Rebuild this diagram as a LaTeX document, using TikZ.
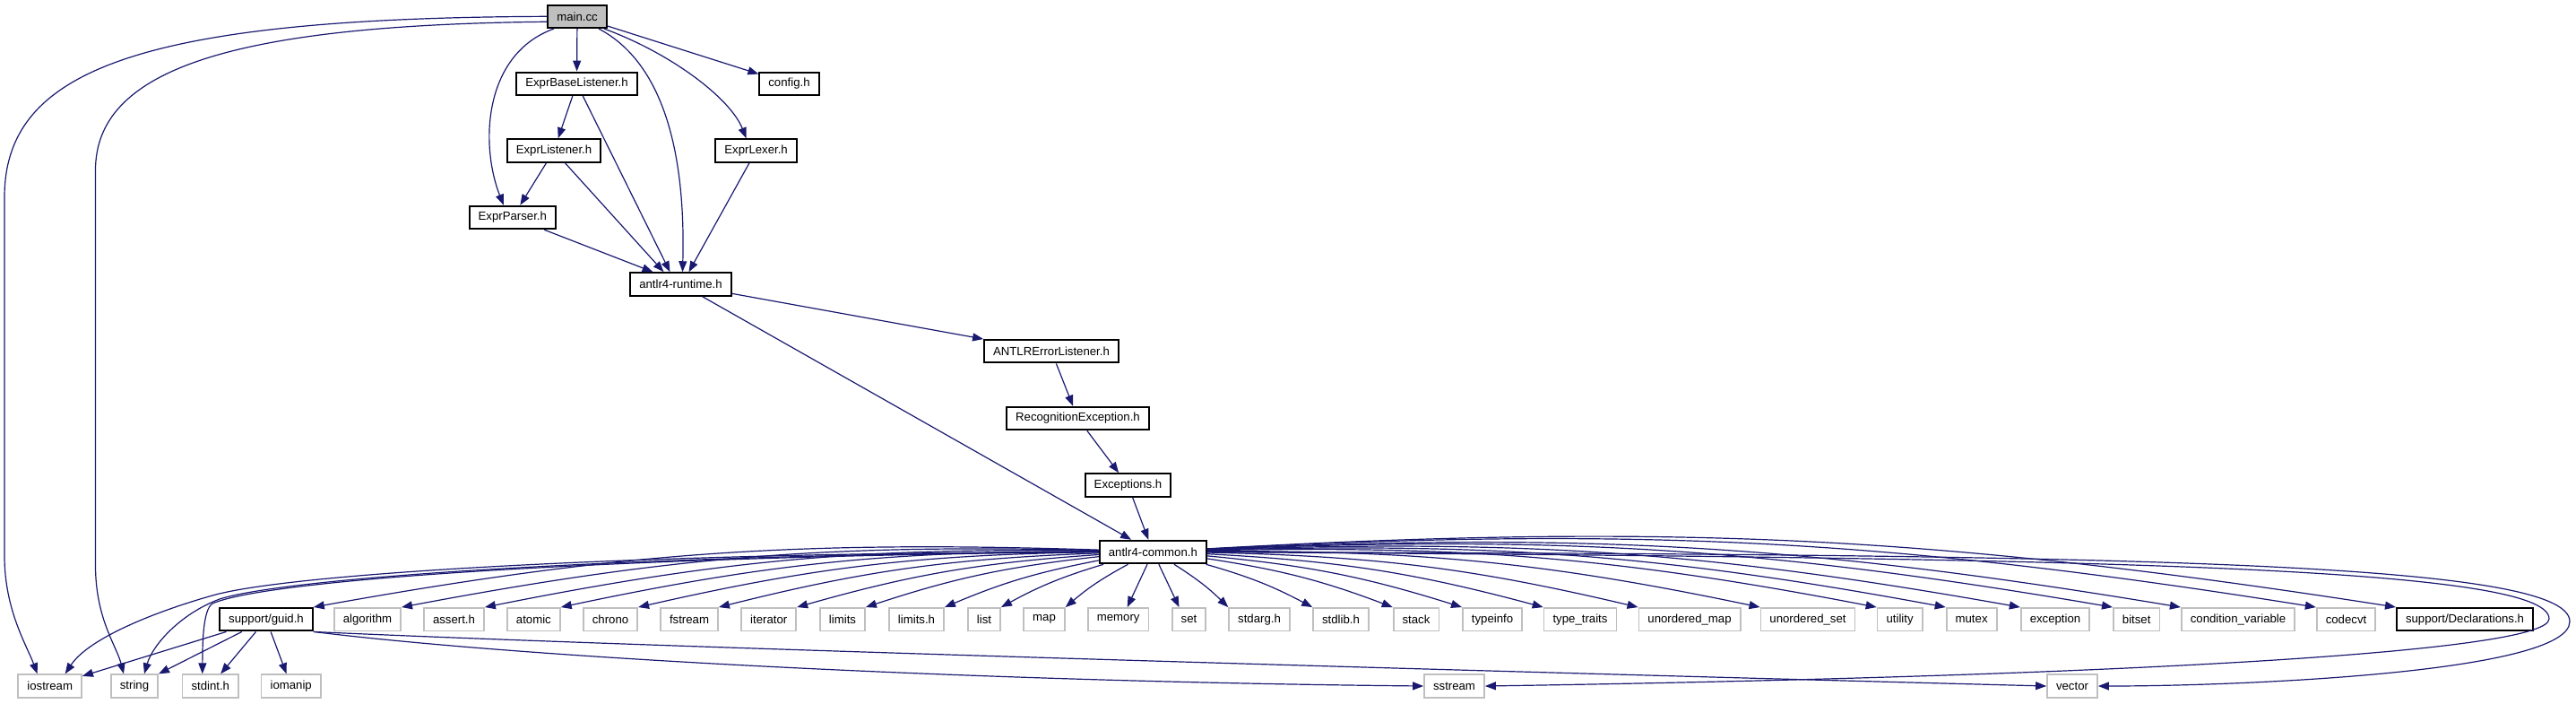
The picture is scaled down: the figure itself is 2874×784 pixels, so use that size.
\documentclass[tikz,border=0pt]{standalone}
\usepackage{fontspec}
\setmainfont{Liberation Sans}
\definecolor{mEdge}{RGB}{25,25,112}
\definecolor{mGrey}{RGB}{191,191,191}
\usepackage{tikz}
\usetikzlibrary{arrows.meta,positioning}

\begin{document}
\begin{tikzpicture}[x=0.5pt, y=-0.5pt,
    every node/.style={font=\fontsize{6.6}{8}\selectfont},
    hdr/.style={draw=black, line width=1pt, fill=white, minimum height=12.75pt, inner xsep=5pt, inner ysep=0pt},
    ext/.style={hdr, draw=mGrey, line width=0.9pt},
    incl/.style={draw=mEdge, line width=0.6pt, -{Triangle[length=6pt,width=4.5pt]}}]
    \useasboundingbox (0,0) rectangle (2874,784);
    % project headers
    \node[hdr, fill=mGrey] (main) at (644,18.3) {main.cc};
    \node[hdr] (baselistener) at (643.5,93.3) {ExprBaseListener.h};
    \node[hdr] (config) at (880.5,93.3) {config.h};
    \node[hdr] (listener) at (618,168) {ExprListener.h};
    \node[hdr] (lexer) at (843.6,168) {ExprLexer.h};
    \node[hdr] (parser) at (571.8,242.5) {ExprParser.h};
    \node[hdr] (runtime) at (759.5,317) {antlr4-runtime.h};
    \node[hdr] (errlistener) at (1173,391.7) {ANTLRErrorListener.h};
    \node[hdr] (recogexc) at (1202.5,466.5) {RecognitionException.h};
    \node[hdr] (exceptions) at (1258.5,541) {Exceptions.h};
    \node[hdr] (common) at (1286.4,615.5) {antlr4-common.h};
    \node[hdr] (guid) at (297,690.7) {support/guid.h};
    \node[hdr] (decls) at (2750,690.7) {support/Declarations.h};
    % system headers
    \foreach \x/\n/\lbl in {410/algorithm/algorithm, 506.5/asserth/assert.h, 595.4/atomic/atomic,
        681/chrono/chrono, 769/fstream/fstream, 857.7/iterator/iterator, 940/limits/limits,
        1022.5/limitsh/limits.h, 1098/list/list, 1165/map/map, 1247.7/memory/memory, 1326.5/set/set,
        1405/stdargh/stdarg.h, 1496/stdlibh/stdlib.h, 1580/stack/stack, 1665/typeinfo/typeinfo,
        1763/typetraits/type\_traits, 1885/umap/unordered\_map, 2017/uset/unordered\_set,
        2119.6/utility/utility, 2199.6/mutex/mutex, 2293/exception/exception, 2383.7/bitset/bitset,
        2497/condvar/condition\_variable, 2617.5/codecvt/codecvt}
      \node[ext] (\n) at (\x,690.7) {\lbl};
    \foreach \x/\n in {55.7/iostream, 150/string, 324.7/iomanip, 1622.5/sstream, 2312/vector}
      \node[ext] (\n) at (\x,765) {\n};
    \node[ext] (stdint) at (234.8,765) {stdint.h};
    % main.cc
    \draw[incl] (main) -- (baselistener);
    \draw[incl] (main) -- (config);
    \draw[incl] ([xshift=-13pt]main.south) .. controls (540,60) and (535,160) .. ([xshift=-5pt]parser.north);
    \draw[incl] ([xshift=12pt]main.south) .. controls (740,70) and (765,170) .. ([xshift=1pt]runtime.north);
    \draw[incl] ([xshift=15pt]main.south) .. controls (750,60) and (815,110) .. ([xshift=-5.5pt]lexer.north);
    \draw[incl] (main.west) .. controls (150,20) and (5,80) .. (5,220) -- (5,620)
      .. controls (5,680) and (30,720) .. ([xshift=-7pt]iostream.north);
    \draw[incl] (main.190) .. controls (250,28) and (106.5,80) .. (106.5,190) -- (106.5,630)
      .. controls (106.5,690) and (130,720) .. ([xshift=-6pt]string.north);
    % listeners, parser, lexer
    \draw[incl] (baselistener) -- (listener);
    \draw[incl] (baselistener) -- ([xshift=-6pt]runtime.north);
    \draw[incl] (listener) -- (parser);
    \draw[incl] (listener) -- ([xshift=-9.5pt]runtime.north);
    \draw[incl] (parser) -- ([xshift=-15.5pt]runtime.north);
    \draw[incl] (lexer) -- ([xshift=4.5pt]runtime.north);
    % runtime down to common
    \draw[incl] (runtime) -- (errlistener);
    \draw[incl] (runtime) -- (common);
    \draw[incl] (errlistener) -- (recogexc);
    \draw[incl] (recogexc) -- (exceptions);
    \draw[incl] (exceptions) -- (common);
    % antlr4-common.h
    \foreach \n in {guid,algorithm,asserth,atomic,chrono,fstream,iterator,limits,limitsh,list,map}
      \draw[incl] (common) to[bend right=6] (\n.north east);
    \draw[incl] (common) -- ([xshift=5pt]memory.north);
    \draw[incl] (common) -- ([xshift=-5.5pt]set.north);
    \foreach \n in {stdargh,stdlibh,stack,typeinfo,typetraits,umap,uset,utility,mutex,exception,bitset,condvar,codecvt,decls}
      \draw[incl] (common) to[bend left=6] (\n.north west);
    \draw[incl] (common.west) .. controls (700,616) and (320,640) .. (237,664)
      .. controls (180,680) and (100,710) .. ([xshift=8.5pt]iostream.north);
    \draw[incl] (common.west) .. controls (700,618) and (320,644) .. (245,668)
      .. controls (200,685) and (170,720) .. ([xshift=5.5pt]string.north);
    \draw[incl] (common.west) .. controls (700,620) and (300,645) .. (237,673)
      .. controls (226,680) and (226,720) .. ([xshift=-4.5pt]stdint.north);
    \draw[incl] (common.east) .. controls (2300,622) and (2844,630) .. (2844,690)
      .. controls (2844,730) and (2300,755) .. (sstream.east);
    \draw[incl] (common.east) .. controls (2350,618) and (2867,625) .. (2867,693)
      .. controls (2867,750) and (2500,765) .. (vector.east);
    % support/guid.h
    \foreach \n in {iostream,string,stdint,iomanip}
      \draw[incl] (guid) -- (\n);
    \draw[incl] (guid.south east) .. controls (600,735) and (1100,760) .. (sstream.west);
    \draw[incl] (guid.south east) .. controls (800,725) and (1900,755) .. (vector.west);
\end{tikzpicture}
\end{document}
